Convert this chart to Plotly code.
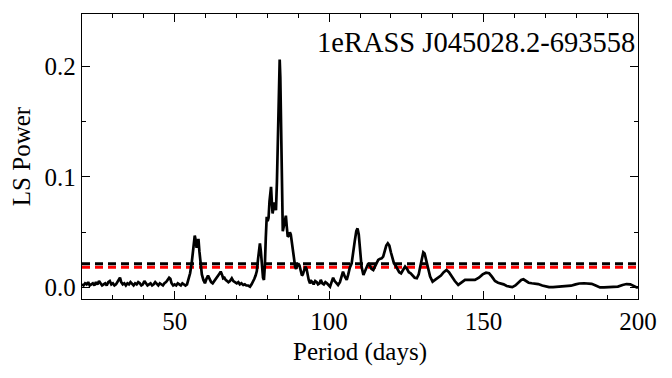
import plotly.graph_objects as go

period = [20.0,20.5,21.0,21.5,22.0,22.5,23.0,23.5,24.0,24.5,25.0,25.5,26.0,26.5,27.0,27.5,28.0,28.5,29.0,29.5,
          30.0,30.5,31.0,31.5,32.0,32.3,32.7,33.2,33.7,34.2,34.7,35.2,35.7,36.2,36.7,37.2,37.7,38.2,38.7,39.2,
          39.7,40.2,40.7,41.2,41.7,42.2,42.7,43.2,43.7,44.2,44.7,45.2,45.7,46.2,46.7,47.2,47.7,48.2,48.6,49.0,
          49.5,50.0,50.5,51.0,51.5,52.0,52.5,53.0,53.5,54.0,54.5,55.0,55.5,55.8,56.1,56.5,56.8,57.1,57.4,57.7,
          58.0,58.4,58.8,59.3,59.8,60.3,60.8,61.3,61.8,62.3,62.8,63.3,63.8,64.2,64.6,64.9,65.3,65.7,66.1,66.5,
          67.0,67.4,67.9,68.5,69.0,69.5,70.1,70.6,71.1,71.6,72.2,72.7,73.2,73.8,74.4,74.9,75.3,75.8,76.2,76.6,
          77.0,77.3,77.6,77.9,78.3,78.6,78.9,79.2,79.5,79.8,80.1,80.4,80.7,81.0,81.2,81.5,81.7,82.0,82.2,82.5,
          82.8,83.1,83.4,83.7,84.0,84.2,84.5,84.8,85.0,85.3,85.7,86.0,86.3,86.6,87.0,87.3,87.6,88.0,88.4,88.7,
          89.0,89.3,89.6,90.0,90.4,90.8,91.2,91.5,91.9,92.3,92.7,93.0,93.4,93.8,94.2,94.6,95.0,95.5,96.0,96.4,
          96.9,97.3,97.8,98.3,98.8,99.3,99.8,100.3,100.8,101.3,101.8,102.3,102.9,103.5,104.0,104.5,105.1,105.7,106.2,106.7,
          107.3,107.8,108.3,108.8,109.2,109.6,110.0,110.5,111.1,111.6,112.2,112.7,113.2,113.7,114.3,114.8,115.4,115.9,116.4,117.0,
          117.5,118.0,118.5,119.0,119.5,120.0,120.5,121.0,121.5,122.0,122.7,123.3,124.0,124.6,125.2,125.8,126.4,127.0,127.7,128.4,
          129.0,129.5,130.0,130.5,130.9,131.4,132.0,132.7,133.5,134.3,135.3,136.2,137.1,138.0,138.8,139.7,140.7,141.8,142.9,144.0,
          145.6,147.2,148.5,149.7,150.8,151.8,152.7,153.7,154.7,155.5,156.5,157.5,158.5,159.3,160.3,161.3,162.2,162.9,163.7,164.6,
          165.6,166.7,167.7,169.0,170.2,171.2,172.5,174.0,175.5,176.9,178.3,179.8,181.0,182.5,184.0,185.0,186.3,187.7,189.0,190.5,
          192.0,193.5,195.0,196.3,197.5,198.5,199.6,200.0]

power = [0.003,0.002,0.004,0.003,0.005,0.002,0.003,0.004,0.002,0.005,0.003,0.006,0.004,0.002,0.003,0.004,0.002,0.005,0.006,0.003,
         0.004,0.002,0.003,0.005,0.007,0.009,0.005,0.003,0.004,0.002,0.004,0.003,0.005,0.003,0.002,0.004,0.003,0.005,0.004,0.002,
         0.003,0.006,0.004,0.002,0.003,0.004,0.002,0.003,0.005,0.003,0.002,0.004,0.003,0.002,0.004,0.005,0.007,0.009,0.008,0.004,
         0.002,0.003,0.002,0.004,0.003,0.002,0.004,0.003,0.002,0.003,0.007,0.013,0.022,0.030,0.042,0.047,0.043,0.036,0.040,0.044,
         0.033,0.020,0.012,0.007,0.004,0.008,0.011,0.008,0.005,0.004,0.006,0.009,0.011,0.0115,0.013,0.0145,0.012,0.0085,0.009,0.007,
         0.006,0.005,0.006,0.0085,0.006,0.005,0.004,0.005,0.003,0.004,0.0025,0.003,0.002,0.002,0.001,0.003,0.005,0.008,0.011,0.015,
         0.026,0.034,0.040,0.033,0.017,0.009,0.007,0.020,0.045,0.064,0.060,0.063,0.078,0.089,0.091,0.075,0.067,0.072,0.077,0.074,
         0.070,0.095,0.140,0.185,0.206,0.190,0.120,0.060,0.051,0.055,0.062,0.065,0.055,0.046,0.047,0.050,0.048,0.040,0.033,0.024,
         0.019,0.017,0.020,0.022,0.020,0.014,0.011,0.012,0.015,0.019,0.017,0.012,0.007,0.004,0.006,0.005,0.003,0.006,0.005,0.003,
         0.004,0.007,0.004,0.003,0.005,0.004,0.002,0.001,0.005,0.009,0.006,0.004,0.0025,0.005,0.010,0.0145,0.010,0.007,0.012,0.018,
         0.022,0.030,0.042,0.051,0.0535,0.048,0.034,0.019,0.0115,0.015,0.020,0.022,0.020,0.017,0.016,0.019,0.023,0.025,0.026,0.0265,
         0.028,0.033,0.038,0.040,0.038,0.032,0.026,0.022,0.020,0.017,0.014,0.013,0.016,0.019,0.017,0.014,0.013,0.011,0.009,0.0085,
         0.012,0.019,0.027,0.032,0.031,0.025,0.017,0.010,0.0055,0.007,0.0085,0.011,0.014,0.016,0.014,0.010,0.006,0.0025,0.005,0.007,
         0.007,0.007,0.009,0.012,0.0135,0.013,0.010,0.006,0.0045,0.004,0.003,0.0015,0.0008,0.0005,0.002,0.005,0.007,0.0076,0.006,0.0045,
         0.004,0.0038,0.0033,0.002,0.001,0.0005,0.0006,0.0008,0.0009,0.001,0.0018,0.003,0.0038,0.004,0.004,0.0035,0.002,0.0003,0.0003,0.0005,
         0.0005,0.001,0.0025,0.0033,0.003,0.0015,0.0003,0.0002]

x_range = [20, 200]
threshold_black = 0.0215
threshold_red = 0.0185
source_name = "1eRASS J045028.2-693558"

FONT = "Liberation Serif"

fig = go.Figure()
fig.add_trace(go.Scatter(x=x_range, y=[threshold_red, threshold_red], mode="lines",
                         line=dict(color="#ff0000", width=3, dash="8px,5px"), hoverinfo="skip"))
fig.add_trace(go.Scatter(x=x_range, y=[threshold_black, threshold_black], mode="lines",
                         line=dict(color="black", width=3, dash="8px,5px"), hoverinfo="skip"))
fig.add_trace(go.Scatter(x=period, y=power, mode="lines",
                         line=dict(color="black", width=2.7), hoverinfo="skip"))

axis_common = dict(showline=True, linecolor="black", linewidth=1.3, mirror="allticks",
                   ticks="inside", ticklen=8, tickwidth=1.1, tickcolor="black",
                   showgrid=False, zeroline=False,
                   tickfont=dict(family=FONT, size=25, color="black"))

fig.update_xaxes(range=x_range, tick0=0, dtick=50,
                 minor=dict(ticks="inside", ticklen=4, tickwidth=1, tickcolor="black", dtick=10, tick0=0, showgrid=False),
                 title=dict(text="Period (days)", font=dict(family=FONT, size=25, color="black"), standoff=8),
                 **axis_common)
fig.update_yaxes(range=[-0.0102, 0.247], tick0=0, dtick=0.1, tickformat=".1f",
                 minor=dict(ticks="inside", ticklen=4, tickwidth=1, tickcolor="black", dtick=0.05, tick0=0, showgrid=False),
                 title=dict(text="LS Power", font=dict(family=FONT, size=25, color="black"), standoff=6),
                 **axis_common)

fig.add_annotation(text=source_name, xref="paper", yref="paper", x=0.998, y=0.9,
                   xanchor="right", yanchor="middle", showarrow=False,
                   font=dict(family=FONT, size=28.5, color="black"))

# page body has an 8px default margin; size the figure so the plot area lands where the reference has it
fig.update_layout(width=656, height=362, margin=dict(l=74, r=26, t=6, b=71),
                  plot_bgcolor="white", paper_bgcolor="white", showlegend=False)

fig.write_html("out.html")
